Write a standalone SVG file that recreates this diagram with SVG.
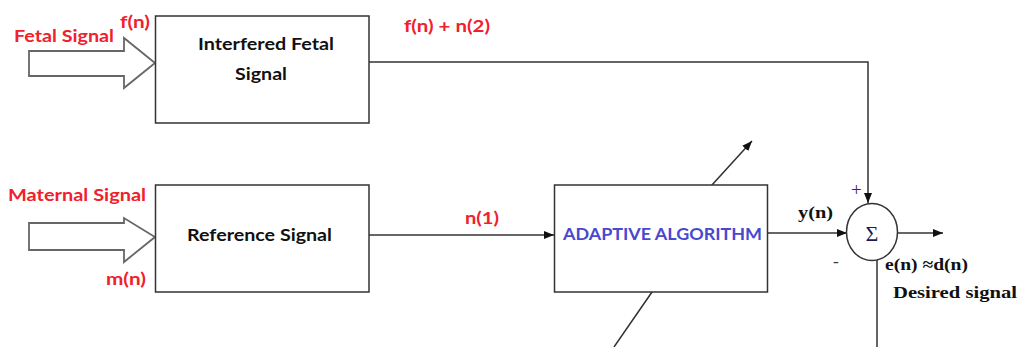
<svg xmlns="http://www.w3.org/2000/svg" width="1024" height="347" viewBox="0 0 1024 347">
<style>
.box{fill:#fff;stroke:#333;stroke-width:1.5}
.ln{fill:none;stroke:#333;stroke-width:1.5}
.fat{fill:#fff;stroke:#666;stroke-width:1.8}
.red{font-family:Lato,"Liberation Sans",sans-serif;font-weight:bold;fill:#f0202c;font-size:17px}
.blk{font-family:Lato,"Liberation Sans",sans-serif;font-weight:bold;fill:#111;font-size:17px}
.blue{font-family:Lato,"Liberation Sans",sans-serif;font-weight:bold;fill:#4848d0;font-size:17px}
.ser{font-family:"Liberation Serif",serif;font-weight:bold;fill:#111;font-size:17px}
</style>
<defs>
<marker id="ah" viewBox="0 0 10 10" refX="10" refY="5" markerWidth="10" markerHeight="10" markerUnits="userSpaceOnUse" orient="auto">
<path d="M0,1 L10,5 L0,9 Z" fill="#111"/>
</marker>
</defs>
<rect width="1024" height="347" fill="#fff"/>
<g id="connectors">
<polyline class="ln" points="369,62 868,62 868,203" marker-end="url(#ah)"/>
<line class="ln" x1="369" y1="235" x2="554" y2="235" marker-end="url(#ah)"/>
<line class="ln" x1="768" y1="233" x2="847" y2="233" marker-end="url(#ah)"/>
<line class="ln" x1="898" y1="233" x2="943" y2="233" marker-end="url(#ah)"/>
<line class="ln" x1="877" y1="260" x2="877" y2="347"/>
<polyline class="ln" points="614,347 652,292 712,185 752,141" marker-end="url(#ah)"/>
</g>
<g id="fetal-input">
<path class="fat" d="M29,51 L124,51 L124,38 L155,63 L124,88 L124,76 L29,76 Z"/>
<text class="red" x="14" y="42" textLength="100" lengthAdjust="spacingAndGlyphs">Fetal Signal</text>
<text class="red" x="120" y="28" textLength="30" lengthAdjust="spacingAndGlyphs">f(n)</text>
</g>
<g id="maternal-input">
<path class="fat" d="M29,223 L124,223 L124,218 L155,237 L124,262 L124,250 L29,250 Z"/>
<text class="red" x="8" y="201" textLength="138" lengthAdjust="spacingAndGlyphs">Maternal Signal</text>
<text class="red" x="106" y="285" textLength="40" lengthAdjust="spacingAndGlyphs">m(n)</text>
</g>
<g id="interfered">
<rect class="box" x="155.5" y="16" width="213.5" height="107"/>
<text class="blk" x="198" y="50" textLength="136" lengthAdjust="spacingAndGlyphs">Interfered Fetal</text>
<text class="blk" x="235" y="80" textLength="52" lengthAdjust="spacingAndGlyphs">Signal</text>
</g>
<g id="reference">
<rect class="box" x="155.5" y="185" width="213.5" height="107"/>
<text class="blk" x="187" y="241" textLength="145" lengthAdjust="spacingAndGlyphs">Reference Signal</text>
</g>
<g id="adaptive">
<rect class="box" x="554.5" y="185" width="213" height="107"/>
<text class="blue" x="563" y="240" textLength="199" lengthAdjust="spacingAndGlyphs">ADAPTIVE ALGORITHM</text>
</g>
<g id="sum">
<ellipse class="box" cx="872" cy="232" rx="25.5" ry="28.5"/>
<text x="872" y="241" text-anchor="middle" font-family="Liberation Serif,serif" font-size="22" fill="#1a1a50">Σ</text>
<text x="851" y="196" font-family="Liberation Serif,serif" font-size="19" fill="#4a2060">+</text>
<text x="833" y="267" font-family="Liberation Serif,serif" font-size="17" fill="#333">-</text>
</g>
<g id="labels">
<text class="red" x="404" y="32" textLength="86" lengthAdjust="spacingAndGlyphs">f(n) + n(2)</text>
<text class="red" x="465" y="224" textLength="34" lengthAdjust="spacingAndGlyphs">n(1)</text>
<text class="ser" x="798" y="218" textLength="35" lengthAdjust="spacingAndGlyphs">y(n)</text>
<text class="ser" x="885" y="270" textLength="83" lengthAdjust="spacingAndGlyphs">e(n) ≈d(n)</text>
<text class="ser" x="893" y="298" textLength="124" lengthAdjust="spacingAndGlyphs">Desired signal</text>
</g>
</svg>
